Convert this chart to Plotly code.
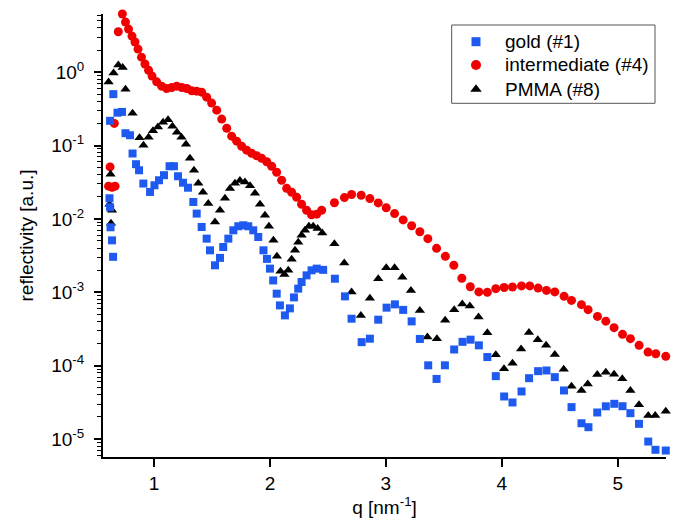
import plotly.graph_objects as go

# ---- data (q in nm^-1, reflectivity in a.u.) ----
gold_q = [0.616, 0.621, 0.625, 0.638, 0.647, 0.621, 0.649, 0.685, 0.724, 0.754, 0.793, 0.815,
          0.845, 0.871, 0.908, 0.966, 1.004, 1.043, 1.086, 1.134, 1.172, 1.207, 1.250, 1.293,
          1.339, 1.368, 1.411, 1.454, 1.483, 1.526, 1.569, 1.597, 1.641, 1.684, 1.727, 1.770,
          1.813, 1.856, 1.899, 1.944, 1.974, 2.000, 2.028, 2.058, 2.086, 2.129, 2.172, 2.207,
          2.244, 2.273, 2.316, 2.359, 2.403, 2.459, 2.560, 2.647, 2.704, 2.791, 2.862, 2.934,
          3.006, 3.078, 3.149, 3.222, 3.293, 3.365, 3.437, 3.509, 3.589, 3.661, 3.730, 3.802,
          3.875, 3.948, 4.020, 4.092, 4.170, 4.235, 4.313, 4.385, 4.457, 4.536, 4.601, 4.687,
          4.747, 4.823, 4.897, 4.970, 5.041, 5.109, 5.183, 5.263, 5.325, 5.414]
gold_R = [0.0191, 0.0144, 0.00768, 0.00510, 0.00304, 0.217, 0.501, 0.280, 0.287, 0.147, 0.138, 0.0778,
          0.0556, 0.0460, 0.0303, 0.0233, 0.0287, 0.0336, 0.0394, 0.0522, 0.0522, 0.0381, 0.0311, 0.0266,
          0.0170, 0.0118, 0.00775, 0.00538, 0.00373, 0.00233, 0.00294, 0.00414, 0.00538, 0.00699, 0.00793, 0.00818,
          0.00793, 0.00699, 0.00566, 0.00373, 0.00285, 0.00210, 0.00145, 0.000957, 0.000662, 0.000484, 0.000603, 0.000851,
          0.00112, 0.00138, 0.00170, 0.00199, 0.00210, 0.00202, 0.00153, 0.000879, 0.000436, 0.000209, 0.000233, 0.000423,
          0.000617, 0.000684, 0.000575, 0.000401, 0.000231, 0.000101, 0.0000659, 0.000101, 0.000166, 0.000211, 0.000226, 0.000189,
          0.000131, 0.0000719, 0.0000380, 0.0000315, 0.0000445, 0.0000675, 0.0000841, 0.0000859, 0.0000697, 0.0000459, 0.0000272, 0.0000164,
          0.0000145, 0.0000230, 0.0000279, 0.0000302, 0.0000280, 0.0000225, 0.0000161, 0.00000924, 0.00000713, 0.00000697]

inter_q = [0.608, 0.621, 0.638, 0.664, 0.658, 0.692, 0.727,
           0.754, 0.780, 0.810, 0.836, 0.862, 0.892, 0.922, 0.953, 0.983,
           1.023, 1.066, 1.109, 1.153, 1.196, 1.239, 1.282, 1.325,
           1.368, 1.411, 1.454, 1.497, 1.541, 1.584, 1.627, 1.670, 1.713, 1.756, 1.799, 1.842, 1.885,
           1.928, 1.972, 2.015, 2.058, 2.101, 2.144, 2.187, 2.230, 2.273, 2.316, 2.359, 2.403, 2.446,
           2.556, 2.642, 2.704, 2.787, 2.862, 2.934, 3.003, 3.075, 3.149, 3.222, 3.293, 3.362, 3.437,
           3.513, 3.586, 3.655, 3.728, 3.802, 3.875, 3.948, 4.020, 4.092, 4.170, 4.241, 4.313, 4.385,
           4.457, 4.537, 4.601, 4.687, 4.744, 4.825, 4.897, 4.968, 5.041, 5.109, 5.184, 5.261, 5.328, 5.414]
inter_R = [0.0279, 0.0511, 0.0270, 0.0279, 0.200, 3.55, 6.19,
           4.81, 3.86, 3.10, 2.57, 2.06, 1.60, 1.29, 1.06, 0.882,
           0.737, 0.644, 0.599, 0.618, 0.644, 0.618, 0.599, 0.556,
           0.55, 0.533, 0.456, 0.378, 0.303, 0.229, 0.172, 0.134, 0.1145, 0.0978, 0.0863, 0.0785, 0.0726,
           0.0671, 0.0601, 0.0522, 0.0432, 0.0336, 0.0261, 0.0231, 0.0197, 0.0158, 0.0131, 0.0114, 0.0116, 0.0131,
           0.0166, 0.0195, 0.0215, 0.0210, 0.0189, 0.0165, 0.0142, 0.0118, 0.00968, 0.00805, 0.00667, 0.00538, 0.00397,
           0.00309, 0.00233, 0.00155, 0.00119, 0.00101, 0.000997, 0.00112, 0.00116, 0.00118, 0.00122, 0.00122, 0.00114, 0.00106,
           0.00101, 0.000879, 0.000775, 0.000677, 0.000579, 0.000469, 0.000404, 0.000329, 0.000267, 0.000233, 0.000189, 0.000153, 0.000145, 0.000134]

pmma_q = [0.616, 0.625, 0.638, 0.629, 0.608, 0.651, 0.692, 0.730, 0.754, 0.815, 0.875, 0.909,
          0.953, 0.991, 1.034, 1.078, 1.121, 1.159, 1.198, 1.237, 1.276, 1.310, 1.345, 1.382,
          1.422, 1.468, 1.526, 1.569, 1.612, 1.655, 1.698, 1.741, 1.784, 1.828, 1.871, 1.914,
          1.957, 1.991, 2.030, 2.060, 2.091, 2.125, 2.158, 2.187, 2.216, 2.244, 2.273, 2.302,
          2.336, 2.373, 2.411, 2.451, 2.556, 2.641, 2.704, 2.784, 2.862, 2.934, 3.003, 3.075,
          3.142, 3.216, 3.293, 3.358, 3.440, 3.511, 3.589, 3.659, 3.724, 3.799, 3.875, 3.948,
          4.019, 4.092, 4.166, 4.234, 4.310, 4.382, 4.457, 4.534, 4.601, 4.687, 4.741, 4.823,
          4.897, 4.968, 5.039, 5.109, 5.183, 5.263, 5.323, 5.414]
pmma_R = [0.0158, 0.0406, 0.0131, 0.00871, 0.731, 0.969, 1.246, 1.152, 0.586, 0.276, 0.128, 0.101,
          0.130, 0.159, 0.178, 0.208, 0.225, 0.183, 0.152, 0.130, 0.104, 0.0671, 0.0460, 0.0306,
          0.0231, 0.0162, 0.00907, 0.0131, 0.0191, 0.0259, 0.0306, 0.0333, 0.0319, 0.0283, 0.0223, 0.0158,
          0.0112, 0.00793, 0.00510, 0.00309, 0.00193, 0.00175, 0.00199, 0.00281, 0.00373, 0.00480, 0.00597, 0.00699,
          0.00793, 0.00793, 0.00738, 0.00642, 0.00460, 0.00250, 0.00101, 0.000484, 0.000826, 0.00153, 0.00215, 0.00215,
          0.00160, 0.00106, 0.000566, 0.000245, 0.000233, 0.000414, 0.000579, 0.000690, 0.000648, 0.000459, 0.000281, 0.000141,
          0.0000908, 0.000108, 0.000168, 0.000282, 0.000226, 0.000189, 0.000142, 0.0000893, 0.0000524, 0.0000459, 0.0000560, 0.0000759,
          0.0000815, 0.0000766, 0.0000662, 0.0000459, 0.0000294, 0.0000209, 0.0000209, 0.0000239]

series_names = ["gold (#1)", "intermediate (#4)", "PMMA (#8)"]
series_colors = ["#1E5AF0", "#F00000", "#000000"]
series_symbols = ["square", "circle", "triangle-up"]
series_sizes = [8, 9, 9]

y_tickvals = [1e-5, 1e-4, 1e-3, 1e-2, 1e-1, 1]
y_ticktext = ["10<sup>-5</sup>", "10<sup>-4</sup>", "10<sup>-3</sup>", "10<sup>-2</sup>",
              "10<sup>-1</sup>", "10<sup>0</sup>"]
x_tickvals = [1, 2, 3, 4, 5]

FONT = "Liberation Sans, Arial, sans-serif"

fig = go.Figure()
data = {0: (gold_q, gold_R), 1: (inter_q, inter_R), 2: (pmma_q, pmma_R)}
for i in [1, 2, 0]:  # draw red, then black, then blue on top
    qx, ry = data[i]
    fig.add_trace(go.Scatter(x=qx, y=ry, mode="markers", name=series_names[i],
                             showlegend=False, cliponaxis=False, hoverinfo="x+y",
                             marker=dict(symbol=series_symbols[i], size=series_sizes[i],
                                         color=series_colors[i], line=dict(width=0))))

# ---- hand-built legend box (to match the compact row spacing) ----
leg_x0, leg_x1, leg_y0, leg_y1 = 0.6193, 0.9805, 0.7984, 0.9752
leg_sym_x = 0.6625
leg_txt_x = 0.7105
leg_rows = [0.9375, 0.8849, 0.8300]
fig.add_shape(type="rect", xref="paper", yref="paper", x0=leg_x0, x1=leg_x1, y0=leg_y0, y1=leg_y1,
              line=dict(color="#555555", width=1), fillcolor="rgba(0,0,0,0)", layer="above")
for i in range(3):
    fig.add_trace(go.Scatter(x=[leg_sym_x], y=[leg_rows[i]], xaxis="x2", yaxis="y2",
                             mode="markers", showlegend=False, hoverinfo="skip", cliponaxis=False,
                             marker=dict(symbol=series_symbols[i], size=series_sizes[i] + 1,
                                         color=series_colors[i], line=dict(width=0))))
    fig.add_annotation(x=leg_txt_x, y=leg_rows[i], xref="paper", yref="paper",
                       text=series_names[i], showarrow=False, xanchor="left", yanchor="middle",
                       font=dict(family=FONT, size=19, color="black"))

# the page body has an 8px margin, so the figure is 8px smaller than the window
fig.update_layout(
    width=673, height=514,
    margin=dict(l=95, r=15, t=6, b=65),
    paper_bgcolor="white", plot_bgcolor="white",
    font=dict(family=FONT, size=19, color="black"),
    showlegend=False,
    xaxis=dict(range=[0.56, 5.416], showgrid=False, zeroline=False, automargin=False,
               showline=True, linecolor="black", linewidth=2,
               ticks="outside", ticklen=8, tickwidth=1.5, tickcolor="black",
               tickvals=x_tickvals, tickfont=dict(size=19),
               title=dict(text="q [nm<sup>-1</sup>]", standoff=4, font=dict(size=19))),
    yaxis=dict(type="log", range=[-5.245, 0.792], showgrid=False, zeroline=False, automargin=False,
               showline=True, linecolor="black", linewidth=2,
               ticks="outside", ticklen=7, tickwidth=1.5, tickcolor="black",
               tickvals=y_tickvals, ticktext=y_ticktext, tickfont=dict(size=19),
               ticklabelstandoff=6,
               minor=dict(ticks="outside", ticklen=4, tickwidth=1, tickcolor="black",
                          dtick="D1", showgrid=False),
               title=dict(text="reflectivity [a.u.]", standoff=13, font=dict(size=19))),
    xaxis2=dict(overlaying="x", range=[0, 1], domain=[0, 1], visible=False, fixedrange=True,
                anchor="y2"),
    yaxis2=dict(overlaying="y", range=[0, 1], domain=[0, 1], visible=False, fixedrange=True,
                anchor="x2"),
)

fig.write_html("out.html")
